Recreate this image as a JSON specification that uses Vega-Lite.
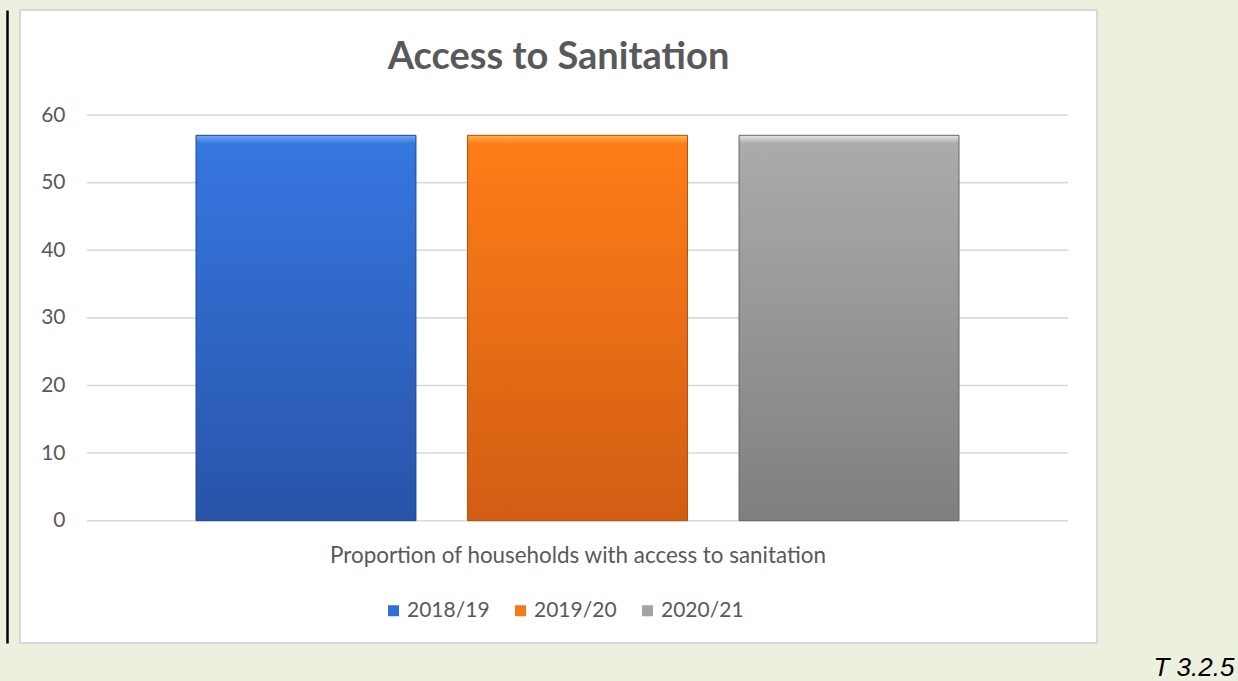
{
  "$schema": "https://vega.github.io/schema/vega-lite/v6.json",
  "width": 1077,
  "height": 633,
  "autosize": {"type": "none"},
  "padding": {"left": 20, "top": 10, "right": 141, "bottom": 38},
  "background": "#ebf1de",
  "config": {
    "view": {"fill": "white", "stroke": "#d9d9d9", "strokeWidth": 2},
    "font": "Lato"
  },
  "title": {
    "text": "Access to Sanitation",
    "font": "Lato",
    "fontSize": 38,
    "fontWeight": "bold",
    "color": "#595959",
    "anchor": "middle",
    "baseline": "alphabetic",
    "offset": -97
  },
  "datasets": {
    "grid": [{"v": 0}, {"v": 10}, {"v": 20}, {"v": 30}, {"v": 40}, {"v": 50}, {"v": 60}],
    "bars": [
      {"series": "2018/19", "value": 57},
      {"series": "2019/20", "value": 57},
      {"series": "2020/21", "value": 57}
    ]
  },
  "layer": [
    {
      "data": {"name": "grid"},
      "mark": {"type": "rule", "color": "#d9d9d9", "strokeWidth": 1.6},
      "encoding": {
        "y": {
          "field": "v",
          "type": "quantitative",
          "title": null,
          "scale": {"domain": [-18.09, 75.53], "nice": false, "zero": false},
          "axis": {
            "values": [0, 10, 20, 30, 40, 50, 60],
            "grid": false,
            "domain": false,
            "ticks": false,
            "tickSize": 0,
            "labelPadding": 0,
            "offset": -45,
            "labelFont": "Lato",
            "labelFontSize": 21,
            "labelColor": "#595959",
            "title": null
          }
        },
        "x": {
          "datum": 0,
          "type": "quantitative",
          "scale": {"domain": [0, 1], "range": [67, 1048]},
          "axis": {
            "orient": "top",
            "labels": false,
            "ticks": false,
            "domain": false,
            "grid": false,
            "title": "T 3.2.5",
            "titleX": 1133,
            "titleY": 665,
            "titleAngle": 0,
            "titleAlign": "left",
            "titleBaseline": "alphabetic",
            "titleFont": "Liberation Sans",
            "titleFontStyle": "italic",
            "titleFontWeight": "normal",
            "titleFontSize": 26,
            "titleColor": "#000000"
          }
        },
        "x2": {"datum": 1}
      }
    },
    {
      "data": {"name": "bars"},
      "encoding": {
        "x": {
          "field": "series",
          "type": "nominal",
          "sort": null,
          "scale": {"range": [67, 1048], "paddingInner": 0.19, "paddingOuter": 0.4015},
          "axis": {
            "labels": false,
            "ticks": false,
            "domain": false,
            "grid": false,
            "title": "Proportion of households with access to sanitation",
            "titleX": 557.5,
            "titleY": -81,
            "titleAlign": "center",
            "titleBaseline": "alphabetic",
            "titleFont": "Lato",
            "titleFontSize": 22.4,
            "titleFontWeight": "normal",
            "titleColor": "#595959"
          }
        },
        "y": {
          "field": "value",
          "type": "quantitative",
          "title": null,
          "scale": {"domain": [-18.09, 75.53], "nice": false, "zero": false},
          "axis": {
            "orient": "left",
            "offset": 13,
            "labels": false,
            "ticks": false,
            "grid": false,
            "domain": true,
            "domainColor": "#000000",
            "domainWidth": 2.5,
            "title": null
          }
        },
        "y2": {"datum": 0}
      },
      "layer": [
        {
          "mark": {"type": "bar"},
          "encoding": {
            "color": {
              "field": "series",
              "type": "nominal",
              "scale": {
                "domain": ["2018/19", "2019/20", "2020/21"],
                "range": ["#3170d8", "#f77816", "#a3a3a3"]
              },
              "legend": {
                "orient": "none",
                "direction": "horizontal",
                "legendX": 363,
                "legendY": 590,
                "title": null,
                "padding": 0,
                "symbolType": "square",
                "symbolSize": 121,
                "symbolStrokeWidth": 0,
                "labelFont": "Lato",
                "labelFontSize": 21,
                "labelColor": "#595959",
                "labelOffset": 3,
                "columnPadding": 20
              }
            }
          }
        },
        {
          "mark": {"type": "bar", "strokeWidth": 1},
          "encoding": {
            "fill": {
              "condition": [
                {"test": "datum.series === '2018/19'", "value": {"gradient": "linear", "x1": 0, "y1": 0, "x2": 0, "y2": 1, "stops": [{"offset": 0, "color": "#72aaf6"}, {"offset": 0.022, "color": "#3676e0"}, {"offset": 1, "color": "#2854a8"}]}},
                {"test": "datum.series === '2019/20'", "value": {"gradient": "linear", "x1": 0, "y1": 0, "x2": 0, "y2": 1, "stops": [{"offset": 0, "color": "#ffb552"}, {"offset": 0.022, "color": "#fd7d18"}, {"offset": 1, "color": "#d25d13"}]}}
              ],
              "value": {"gradient": "linear", "x1": 0, "y1": 0, "x2": 0, "y2": 1, "stops": [{"offset": 0, "color": "#e4e4e4"}, {"offset": 0.022, "color": "#ababab"}, {"offset": 1, "color": "#7f7f7f"}]}
            },
            "stroke": {
              "condition": [
                {"test": "datum.series === '2018/19'", "value": "#22489a"},
                {"test": "datum.series === '2019/20'", "value": "#b4500e"}
              ],
              "value": "#666666"
            }
          }
        }
      ]
    }
  ],
  "resolve": {"scale": {"x": "independent"}, "axis": {"y": "independent"}}
}
